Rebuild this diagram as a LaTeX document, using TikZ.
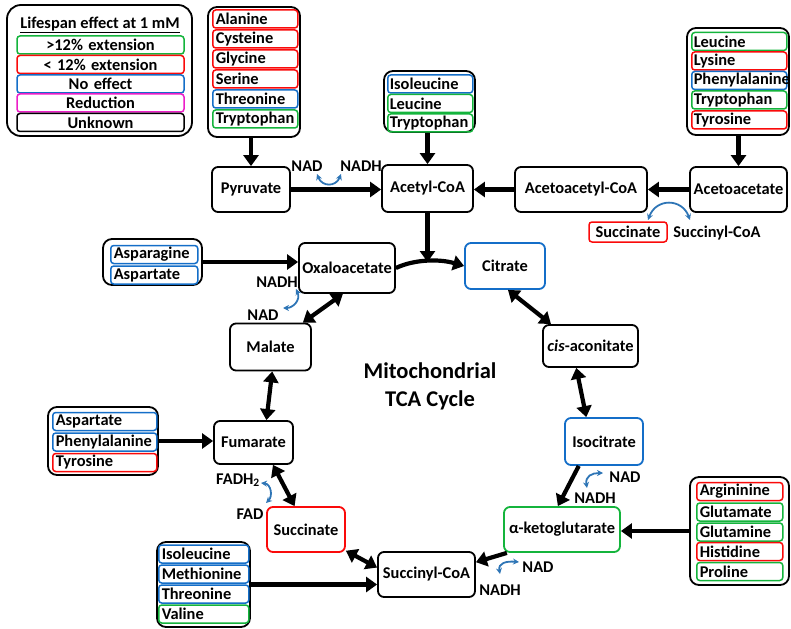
\documentclass[tikz,border=0pt]{standalone}
\usepackage{fontspec}
\setmainfont{Carlito}
\usetikzlibrary{arrows.meta,calc}
\definecolor{lsgreen}{RGB}{20,180,60}
\definecolor{lsred}{RGB}{250,10,10}
\definecolor{lsblue}{RGB}{20,110,200}
\definecolor{lspink}{RGB}{236,30,200}
\definecolor{cofblue}{RGB}{46,117,182}
\tikzset{
  every node/.style={font=\fontsize{16.4}{18}\selectfont\bfseries},
  stage/.style={draw, rounded corners=6pt, line width=1.8pt, align=center, inner sep=2pt},
  grpbox/.style={draw, rounded corners=9pt, line width=1.8pt, inner sep=0pt},
  aarow/.style={draw=#1, rounded corners=3pt, line width=1.5pt, minimum height=18pt,
    inner xsep=3pt, inner ysep=0pt, anchor=west, align=left},
  legrow/.style={draw=#1, rounded corners=3pt, line width=1.5pt, minimum height=18pt,
    inner xsep=3pt, inner ysep=0pt, text width=161pt, align=center},
  mainarrow/.style={line width=4.2pt, -{Triangle[length=11pt,width=15pt]}},
  bothway/.style={line width=4.2pt, {Triangle[length=11pt,width=15pt]}-{Triangle[length=11pt,width=15pt]}},
  cofarrow/.style={draw=cofblue, line width=1.8pt, {Stealth[length=6pt,width=6pt]}-{Stealth[length=6pt,width=6pt]}},
}
\begin{document}
\begin{tikzpicture}[x=1pt,y=-1pt]
\useasboundingbox (0,0) rectangle (791,628);

% legend
\node[grpbox, rounded corners=14pt, minimum width=185, minimum height=131] (legend) at (99.5,70.5) {};
\node (legtitle) at (100,25) {\underline{Lifespan effect at 1 mM}};
\node[legrow=lsgreen] (leg1) at (100.5,45) {>12\% extension};
\node[legrow=lsred] (leg2) at (100.5,64.5) {< 12\% extension};
\node[legrow=lsblue] (leg3) at (100.5,84) {No effect};
\node[legrow=lspink] (leg4) at (100.5,103) {Reduction};
\node[legrow=black] (leg5) at (100.5,122.5) {Unknown};

% cycle intermediates
\node[stage, minimum width=78, minimum height=45] (pyr) at (251,189.5) {Pyruvate};
\node[stage, minimum width=91, minimum height=47] (acoa) at (427.5,188.5) {Acetyl-CoA};
\node[stage, minimum width=132, minimum height=45] (aacoa) at (581,189.5) {Acetoacetyl-CoA};
\node[stage, minimum width=97, minimum height=45] (aac) at (738.5,189.5) {Acetoacetate};
\node[stage, minimum width=96, minimum height=50] (oaa) at (347,268) {Oxaloacetate};
\node[stage, draw=lsblue, minimum width=80, minimum height=46] (cit) at (505,266) {Citrate};
\node[stage, minimum width=81, minimum height=47] (mal) at (270.5,347) {Malate};
\node[stage, minimum width=95, minimum height=42] (cis) at (590.5,346) {\textit{cis}-aconitate};
\node[stage, minimum width=79, minimum height=43] (fum) at (253.5,442.5) {Fumarate};
\node[stage, draw=lsblue, minimum width=78, minimum height=47] (iso) at (604,441.5) {Isocitrate};
\node[stage, draw=lsgreen, minimum width=116, minimum height=45] (akg) at (562,529.5) {α-ketoglutarate};
\node[stage, draw=lsred, minimum width=78, minimum height=45] (suc) at (306,529.5) {Succinate};
\node[stage, minimum width=97, minimum height=45] (scoa) at (426.5,574.5) {Succinyl-CoA};

\node[font=\fontsize{22.5}{28}\selectfont\bfseries, align=center] (cycle) at (430,386) {Mitochondrial\\TCA Cycle};

% amino acids into pyruvate
\node[grpbox, minimum width=92, minimum height=130] (aapyr) at (254,72) {};
\node[aarow=lsred, text width=79] (ala) at (212,19) {Alanine};
\node[aarow=lsred, text width=79] (cys) at (212,39) {Cysteine};
\node[aarow=lsred, text width=79] (gly) at (212,59) {Glycine};
\node[aarow=lsred, text width=79] (ser) at (212,79) {Serine};
\node[aarow=lsblue, text width=79] (thr) at (212,99) {Threonine};
\node[aarow=lsgreen, text width=79] (trp) at (212,119) {Tryptophan};

% amino acids into acetyl-CoA
\node[grpbox, minimum width=91, minimum height=61] (aaacoa) at (429.5,101.5) {};
\node[aarow=lsblue, text width=81, inner xsep=2pt] (ile) at (387,84) {Isoleucine};
\node[aarow=lsgreen, text width=81, inner xsep=2pt] (leu) at (387,103.5) {Leucine};
\node[aarow=lsgreen, text width=81, inner xsep=2pt] (trpb) at (387,123) {Tryptophan};

% amino acids into acetoacetate
\node[grpbox, minimum width=102, minimum height=107] (aaaac) at (738,81.5) {};
\node[aarow=lsgreen, text width=91, inner xsep=2pt] (leub) at (691,41.5) {Leucine};
\node[aarow=lsred, text width=91, inner xsep=2pt] (lys) at (691,61) {Lysine};
\node[aarow=lsblue, text width=91, inner xsep=2pt] (phe) at (691,80.5) {Phenylalanine};
\node[aarow=lsgreen, text width=91, inner xsep=2pt] (trpc) at (691,100) {Tryptophan};
\node[aarow=lsred, text width=91, inner xsep=2pt] (tyr) at (691,120) {Tyrosine};

% amino acids into oxaloacetate
\node[grpbox, minimum width=99, minimum height=46] (aaoaa) at (152.5,262) {};
\node[aarow=lsblue, text width=81] (asn) at (110,254.5) {Asparagine};
\node[aarow=lsblue, text width=81] (asp) at (110,275) {Aspartate};

% amino acids into fumarate
\node[grpbox, minimum width=110, minimum height=68] (aafum) at (103,441) {};
\node[aarow=lsblue, text width=98] (aspb) at (52,421.5) {Aspartate};
\node[aarow=lsblue, text width=98] (pheb) at (52,442) {Phenylalanine};
\node[aarow=lsred, text width=98] (tyrb) at (52,462.5) {Tyrosine};

% amino acids into alpha-ketoglutarate
\node[grpbox, minimum width=99, minimum height=108] (aaakg) at (739.5,531) {};
\node[aarow=lsred, text width=80] (arg) at (696,491.5) {Argininine};
\node[aarow=lsgreen, text width=80] (glu) at (696,512) {Glutamate};
\node[aarow=lsgreen, text width=80] (gln) at (696,532) {Glutamine};
\node[aarow=lsred, text width=80] (his) at (696,551.5) {Histidine};
\node[aarow=lsgreen, text width=80] (pro) at (696,571.5) {Proline};

% amino acids into succinyl-CoA
\node[grpbox, minimum width=93, minimum height=85] (aascoa) at (203.5,584.5) {};
\node[aarow=lsblue, text width=84] (ileb) at (158,554) {Isoleucine};
\node[aarow=lsblue, text width=84] (met) at (158,574) {Methionine};
\node[aarow=lsblue, text width=84] (thrb) at (158,594) {Threonine};
\node[aarow=lsgreen, text width=84] (val) at (158,614) {Valine};

% cofactors
\node (nad1) at (307,166) {NAD};
\node (nadh1) at (361,166) {NADH};
\node[draw=lsred, rounded corners=3pt, line width=1.5pt, minimum width=78, minimum height=20, inner sep=0pt] (sucbox) at (628,232) {Succinate};
\node (scoatxt) at (717,233) {Succinyl-CoA};
\node (nadh2) at (277,282) {NADH};
\node (nad2) at (263,315) {NAD};
\node (fadh) at (238,480) {FADH\textsubscript{2}};
\node (fad) at (250,514) {FAD};
\node (nad5) at (625,477) {NAD};
\node (nadh5) at (595,498) {NADH};
\node (nad6) at (538,567) {NAD};
\node (nadh6) at (500,590) {NADH};

\coordinate (cofA1) at (317,174);
\coordinate (cofA2) at (341,174);
\coordinate (cofB1) at (648,220);
\coordinate (cofB2) at (690,220);
\coordinate (cofC1) at (296,289);
\coordinate (cofC2) at (283,308);
\coordinate (cofD1) at (261,483);
\coordinate (cofD2) at (266,503);
\coordinate (cofE1) at (587,488);
\coordinate (cofE2) at (603,473);
\coordinate (cofF1) at (500,574);
\coordinate (cofF2) at (519,562);

\draw[cofarrow] (cofA1) .. controls (322,187) and (336,187) .. (cofA2);
\draw[cofarrow] (cofB1) .. controls (656,198) and (682,198) .. (cofB2);
\draw[cofarrow] (cofC1) .. controls (301,300) and (293,308) .. (cofC2);
\draw[cofarrow] (cofD1) .. controls (271,484) and (273,496) .. (cofD2);
\draw[cofarrow] (cofE1) .. controls (585,476) and (592,473) .. (cofE2);
\draw[cofarrow] (cofF1) .. controls (498,563) and (506,561) .. (cofF2);

% feeding arrows
\draw[mainarrow] (aapyr.south -| pyr.north) -- (pyr.north);
\draw[mainarrow] (aaacoa.south -| acoa.north) -- (acoa.north);
\draw[mainarrow] (aaaac.south -| aac.north) -- (aac.north);
\draw[mainarrow] (aaoaa.east) -- (aaoaa.east -| oaa.west);
\draw[mainarrow] (aafum.east) -- (aafum.east -| fum.west);
\draw[mainarrow] (aaakg.west) -- (aaakg.west -| akg.east);
\draw[mainarrow] (aascoa.east) -- (aascoa.east -| scoa.west);

\draw[mainarrow] (pyr.east) -- (pyr.east -| acoa.west);
\draw[mainarrow] (aac.west) -- (aac.west -| aacoa.east);
\draw[mainarrow] (aacoa.west) -- (aacoa.west -| acoa.east);

% the cycle
\coordinate (join) at (427.5,262);
\draw[mainarrow] (acoa.south) -- (join);
\draw[mainarrow] (oaa.east) .. controls (415,259) and (440,259) .. (cit.west);
\draw[bothway] (cit.277) -- (cis.151);
\draw[bothway] (cis.237) -- (iso.126);
\draw[mainarrow] (iso.224) -- (akg.100);
\draw[mainarrow] (akg.203) -- (scoa.14);
\draw[bothway] (suc.332) -- (scoa.172);
\draw[bothway] (fum.311) -- (suc.116);
\draw[bothway] (mal.274) -- (fum.60);
\draw[bothway] (oaa.261) -- (mal.37);

\end{tikzpicture}
\end{document}
